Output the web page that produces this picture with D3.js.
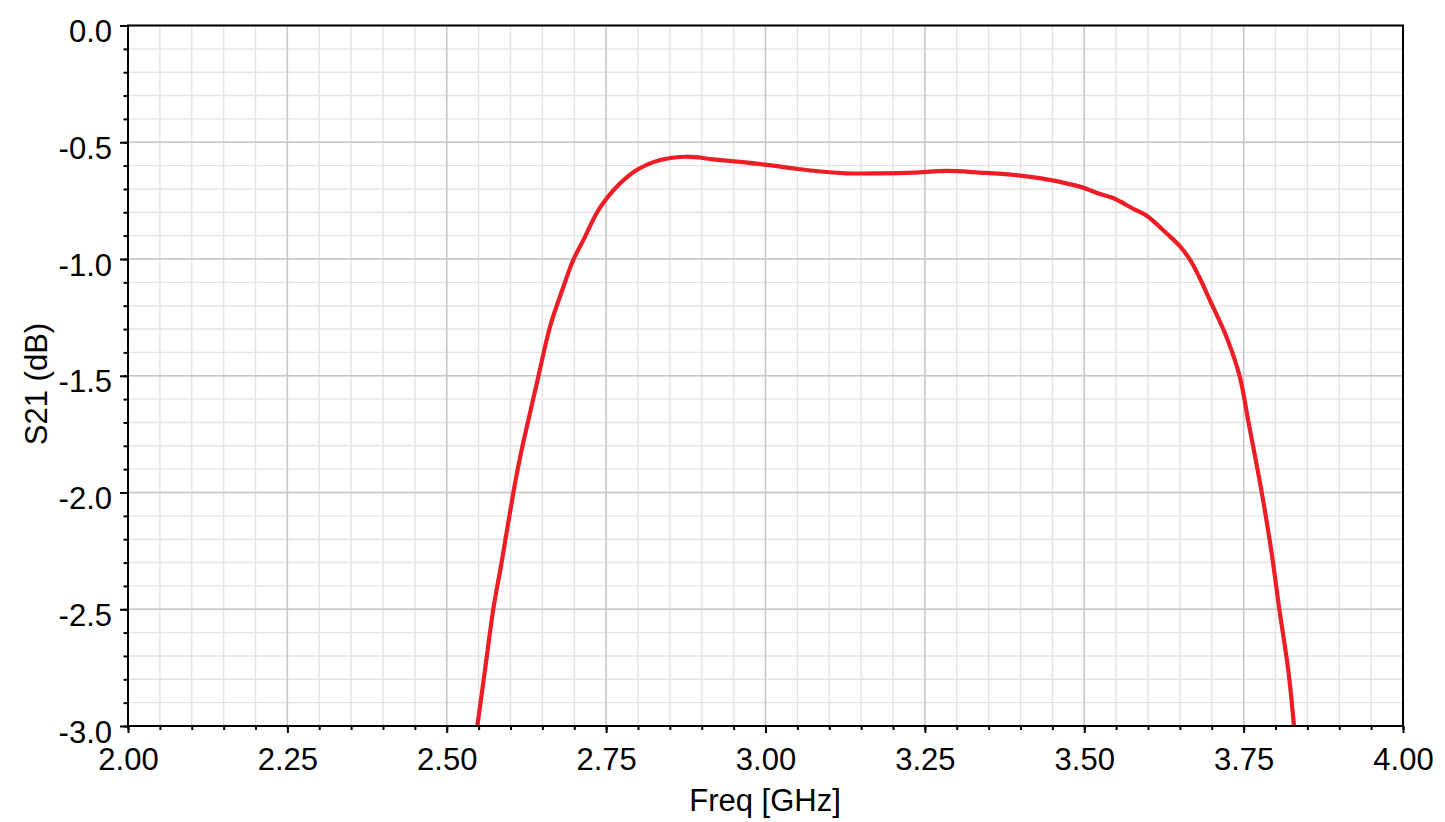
<!DOCTYPE html>
<html>
<head>
<meta charset="utf-8">
<script src="https://cdn.jsdelivr.net/npm/d3@7"></script>
<style>
  html, body { margin: 0; padding: 0; background: #fff; }
  text { font-family: "Liberation Sans", Arial, sans-serif; fill: #000; }
</style>
</head>
<body>
<svg id="chart" width="1445" height="822"></svg>
<script>
// Frequency in GHz
const freq = [2.548, 2.560, 2.573, 2.586, 2.6045, 2.615, 2.628, 2.6436, 2.662, 2.683,
  2.6985, 2.717, 2.735, 2.751, 2.772, 2.798, 2.835, 2.876, 2.918, 2.955,
  3.002, 3.044, 3.075, 3.127, 3.180, 3.232, 3.284, 3.336, 3.389, 3.441,
  3.493, 3.525, 3.546, 3.577, 3.598, 3.629, 3.650, 3.666, 3.680, 3.697,
  3.723, 3.744, 3.757, 3.7784, 3.794, 3.806, 3.820, 3.829];
// S21 in dB
const s21 = [-3.0, -2.76, -2.50, -2.30, -2.00, -1.85, -1.69, -1.504, -1.29, -1.119,
  -1.004, -0.904, -0.804, -0.740, -0.676, -0.619, -0.576, -0.562, -0.573, -0.583,
  -0.597, -0.612, -0.622, -0.633, -0.633, -0.630, -0.623, -0.630, -0.640, -0.659,
  -0.690, -0.722, -0.740, -0.785, -0.815, -0.890, -0.945, -1.004, -1.075, -1.176,
  -1.333, -1.504, -1.69, -2.00, -2.26, -2.50, -2.76, -3.0];

const xTicks = [2.00, 2.25, 2.50, 2.75, 3.00, 3.25, 3.50, 3.75, 4.00];
const yTicks = [0.0, -0.5, -1.0, -1.5, -2.0, -2.5, -3.0];
const xMinor = d3.range(2.0, 4.0001, 0.05);
const yMinor = d3.range(0, -3.0001, -0.1);
const xTitle = "Freq [GHz]";
const yTitle = "S21 (dB)";

const svg = d3.select("#chart");
const L = 128, R = 1403, T = 25.5, B = 726;
const x = d3.scaleLinear().domain([2, 4]).range([L, R]);
const y = d3.scaleLinear().domain([0, -3]).range([T, B]);
const FS = "31px";

svg.append("rect").attr("width", 1445).attr("height", 822).attr("fill", "#fff");

// minor grid
const grid = svg.append("g");
grid.selectAll(".vx").data(xMinor).enter().append("line")
  .attr("x1", d => x(d)).attr("x2", d => x(d)).attr("y1", T).attr("y2", B)
  .attr("stroke", "#e3e3e3").attr("stroke-width", 1.4);
grid.selectAll(".hy").data(yMinor).enter().append("line")
  .attr("y1", d => y(d)).attr("y2", d => y(d)).attr("x1", L).attr("x2", R)
  .attr("stroke", "#e3e3e3").attr("stroke-width", 1.4);
// major grid
grid.selectAll(".VX").data(xTicks).enter().append("line")
  .attr("x1", d => x(d)).attr("x2", d => x(d)).attr("y1", T).attr("y2", B)
  .attr("stroke", "#c6c6c6").attr("stroke-width", 1.4);
grid.selectAll(".HY").data(yTicks).enter().append("line")
  .attr("y1", d => y(d)).attr("y2", d => y(d)).attr("x1", L).attr("x2", R)
  .attr("stroke", "#c6c6c6").attr("stroke-width", 1.4);

// curve
svg.append("clipPath").attr("id", "clip").append("rect")
  .attr("x", L).attr("y", T).attr("width", R - L).attr("height", B - T);
const pts = freq.map((f, i) => [f, s21[i]]);
const line = d3.line().x(d => x(d[0])).y(d => y(d[1])).curve(d3.curveCatmullRom.alpha(0.5));
svg.append("path").datum(pts).attr("d", line)
  .attr("clip-path", "url(#clip)")
  .attr("fill", "none").attr("stroke", "#ee1c25").attr("stroke-width", 4.2)
  .attr("stroke-linejoin", "round");

// axes
const fmt2 = d => d.toFixed(2);
const fmt1 = d => d.toFixed(1).replace("-0.0", "0.0");
const xAxis = d3.axisBottom(x).tickValues(xTicks).tickFormat(fmt2).tickSize(7);
const xAxisMinor = d3.axisBottom(x).tickValues(xMinor).tickFormat("").tickSize(4);
const yAxis = d3.axisLeft(y).tickValues(yTicks).tickFormat(fmt1).tickSize(8);
const yAxisMinor = d3.axisLeft(y).tickValues(yMinor).tickFormat("").tickSize(4.5);

function style(g) {
  g.select(".domain").remove();
  g.selectAll(".tick line").attr("stroke", "#000").attr("stroke-width", 2);
  g.selectAll(".tick text").style("font-size", FS)
    .style("font-family", '"Liberation Sans", Arial, sans-serif').attr("fill", "#000");
}
const gxm = svg.append("g").attr("transform", `translate(0,${B})`).call(xAxisMinor); style(gxm);
const gym = svg.append("g").attr("transform", `translate(${L},0)`).call(yAxisMinor); style(gym);
const gx = svg.append("g").attr("transform", `translate(0,${B})`).call(xAxis); style(gx);
gx.selectAll(".tick text").attr("dy", null).attr("y", 44);
const gy = svg.append("g").attr("transform", `translate(${L},0)`).call(yAxis); style(gy);
gy.selectAll(".tick text").attr("dy", null).attr("y", 16).attr("x", -16);

// frame
svg.append("rect").attr("x", L).attr("y", T).attr("width", R - L).attr("height", B - T)
  .attr("fill", "none").attr("stroke", "#000").attr("stroke-width", 2);

// titles
svg.append("text").attr("x", 765).attr("y", 811).attr("text-anchor", "middle")
  .style("font-size", FS).text(xTitle);
svg.append("text").attr("transform", "translate(47,384) rotate(-90)")
  .attr("text-anchor", "middle").style("font-size", FS).text(yTitle);
</script>
</body>
</html>
